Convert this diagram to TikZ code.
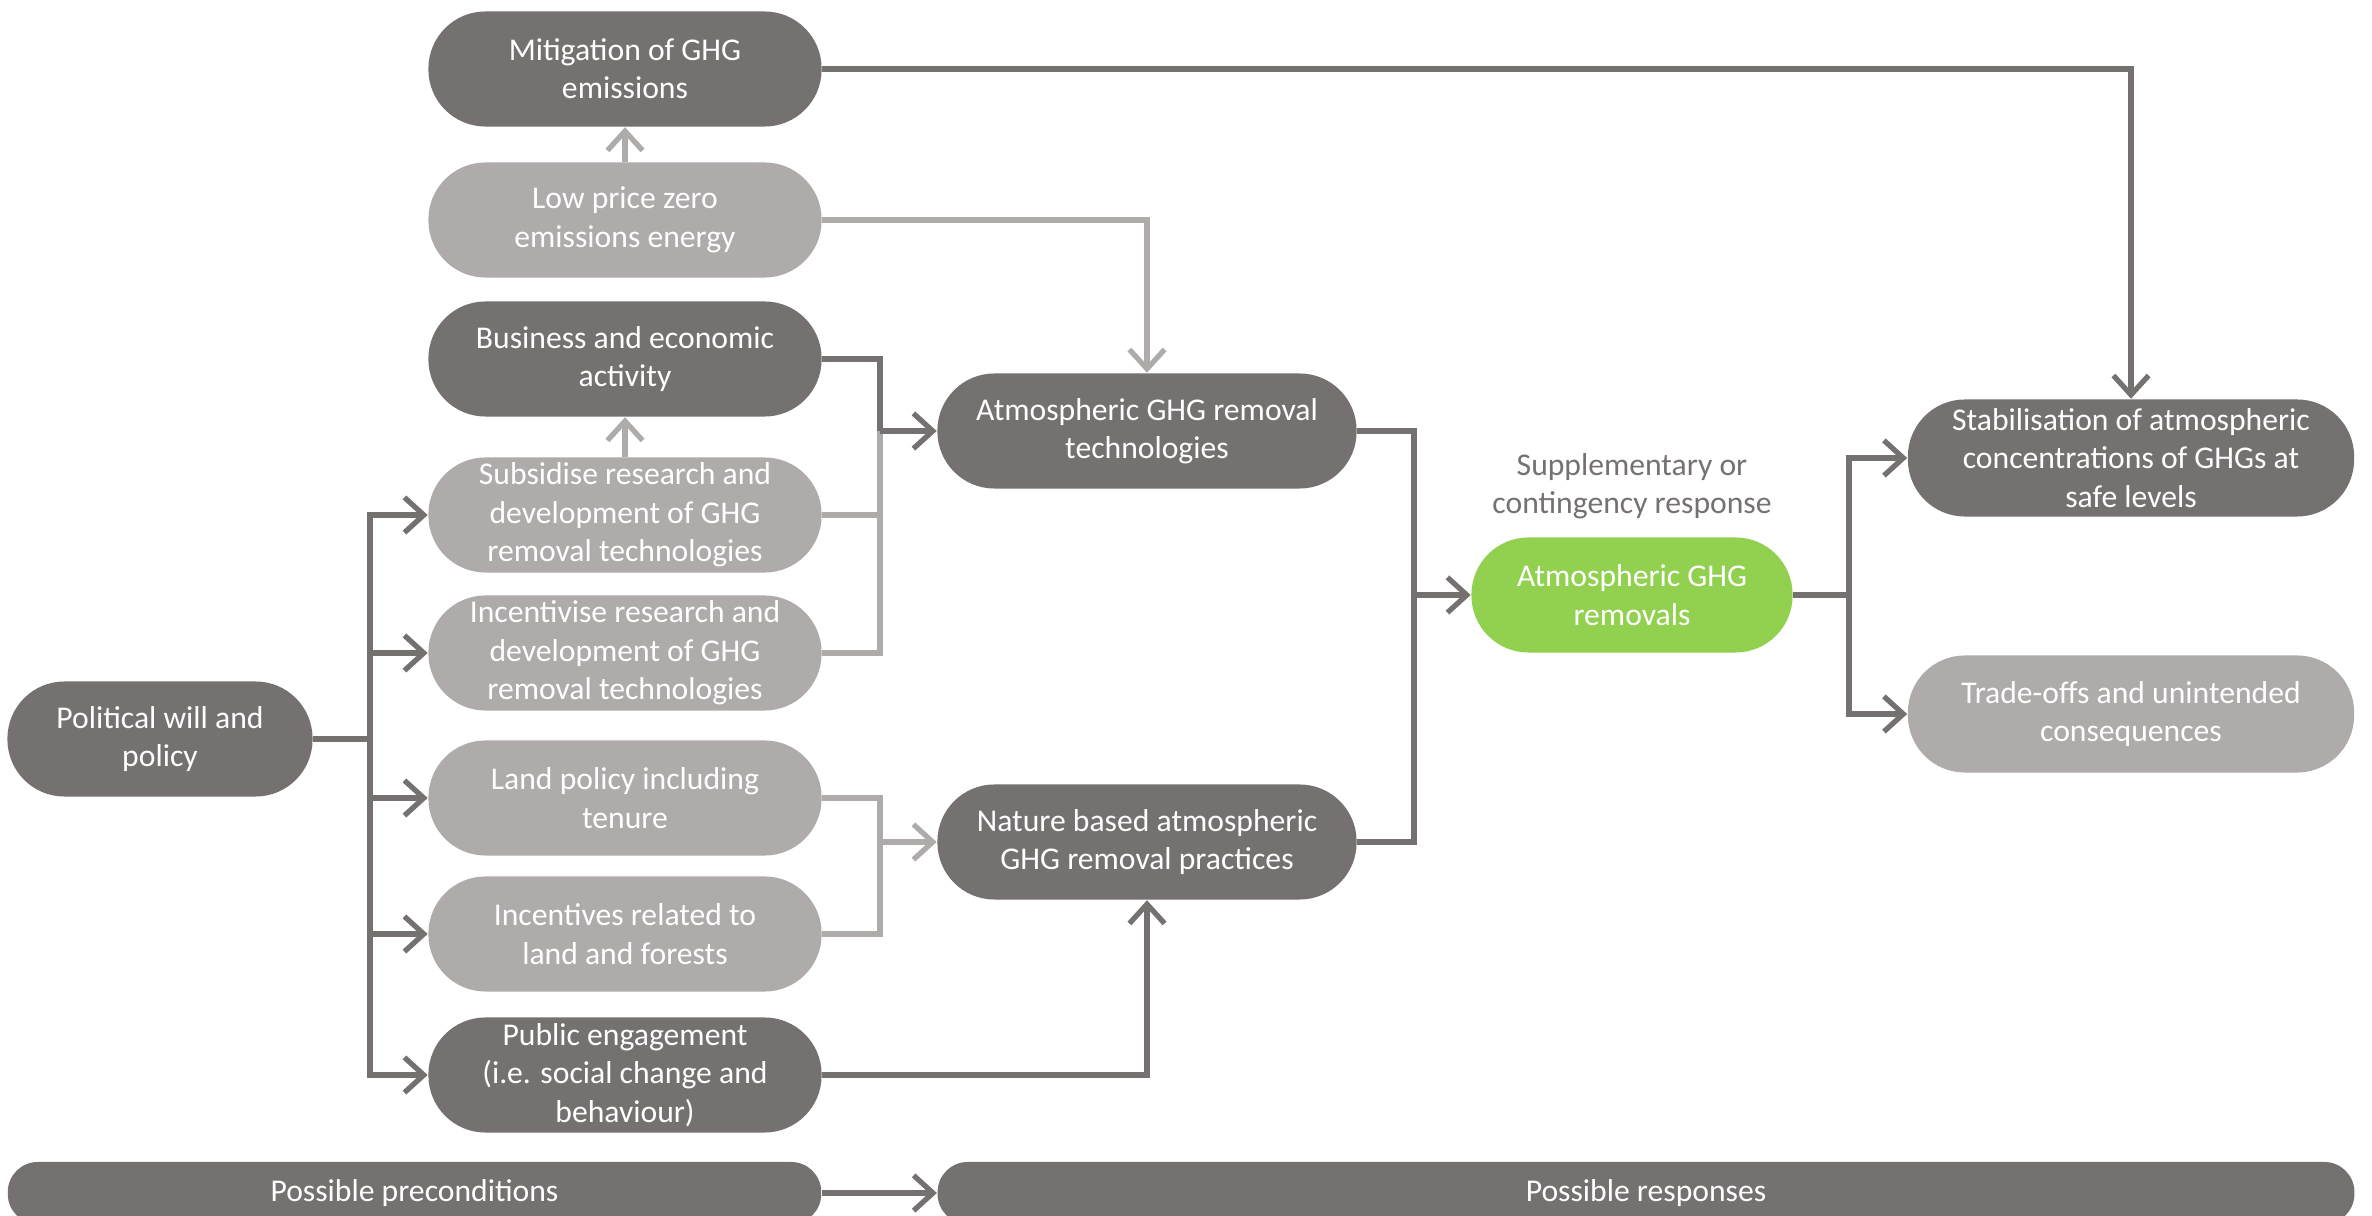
\documentclass[tikz,border=0pt]{standalone}
\usepackage{fontspec}
\setmainfont{Carlito}
\usetikzlibrary{arrows.meta}
\definecolor{boxdark}{RGB}{117,113,112}
\definecolor{boxlight}{RGB}{174,171,170}
\definecolor{boxgreen}{RGB}{146,208,80}

\begin{document}
\begin{tikzpicture}[x=0.01cm, y=-0.01cm,
  every node/.style={font=\fontsize{9}{10.9}\selectfont},
  pill/.style={rounded corners=0.57cm, text=white, align=center, minimum height=1.15cm, inner sep=0pt},
  darkpill/.style={pill, fill=boxdark},
  lightpill/.style={pill, fill=boxlight},
  greenpill/.style={pill, fill=boxgreen},
  flow/.style={draw=boxdark, line width=1.5pt, -{Straight Barb[length=5.5pt,width=10pt]}},
  lightflow/.style={flow, draw=boxlight},
  joint/.style={draw=boxdark, line width=1.5pt},
  lightjoint/.style={joint, draw=boxlight}]
  \useasboundingbox (0,0) rectangle (2372,1216);

  % left column
  \node[darkpill, minimum width=3.93cm] (mitig) at (625,69) {Mitigation of GHG\\emissions};
  \node[lightpill, minimum width=3.93cm] (lowprice) at (625,220) {Low price zero\\emissions energy};
  \node[darkpill, minimum width=3.93cm] (business) at (625,359) {Business and economic\\activity};
  \node[lightpill, minimum width=3.93cm] (subsid) at (625,515) {Subsidise research and\\development of GHG\\removal technologies};
  \node[lightpill, minimum width=3.93cm] (incent) at (625,653) {Incentivise research and\\development of GHG\\removal technologies};
  \node[lightpill, minimum width=3.93cm] (landpol) at (625,798) {Land policy including\\tenure};
  \node[lightpill, minimum width=3.93cm] (landinc) at (625,934) {Incentives related to\\land and forests};
  \node[darkpill, minimum width=3.93cm] (public) at (625,1075) {Public engagement\\(i.e. social change and\\behaviour)};
  \node[darkpill, minimum width=3.05cm] (politic) at (160,739) {Political will and\\policy};

  % middle and right
  \node[darkpill, minimum width=4.19cm] (tech) at (1147,431) {Atmospheric GHG removal\\technologies};
  \node[darkpill, minimum width=4.19cm] (nature) at (1147,842) {Nature based atmospheric\\GHG removal practices};
  \node[greenpill, minimum width=3.21cm] (removals) at (1632,595) {Atmospheric GHG\\removals};
  \node[text=boxdark, align=center] (suppl) at (1632,486) {Supplementary or\\contingency response};
  \node[darkpill, minimum width=4.46cm, minimum height=1.17cm] (stabil) at (2131,458) {Stabilisation of atmospheric\\concentrations of GHGs at\\safe levels};
  \node[lightpill, minimum width=4.46cm, minimum height=1.17cm] (tradeoff) at (2131,714) {Trade-offs and unintended\\consequences};

  % bottom bars, cut by the page edge
  \begin{scope}
    \clip (0,0) rectangle (2372,1216);
    \node[darkpill, minimum width=8.13cm, minimum height=0.62cm, rounded corners=0.3cm] (precond) at (414.5,1193) {Possible preconditions};
    \node[darkpill, minimum width=14.16cm, minimum height=0.62cm, rounded corners=0.3cm] (responses) at (1646,1193) {Possible responses};
  \end{scope}

  \draw[flow] (mitig.east) -| (stabil.north);
  \draw[lightflow] (lowprice.north) -- (mitig.south);
  \draw[lightflow] (lowprice.east) -| (tech.north);
  \draw[lightflow] (subsid.north) -- (business.south);

  \coordinate (techin) at (880,431);
  \draw[lightjoint] (subsid.east) -| (techin);
  \draw[lightjoint] (incent.east) -| (techin);
  \draw[joint] (business.east) -| (techin);
  \draw[flow] (techin) -- (tech.west);

  \coordinate (trunk) at (370,739);
  \draw[joint] (politic.east) -- (trunk);
  \foreach \n in {subsid,incent,landpol,landinc,public}
    \draw[flow] (trunk) |- (\n.west);

  \coordinate (naturein) at (880,842);
  \draw[lightjoint] (landpol.east) -| (naturein);
  \draw[lightjoint] (landinc.east) -| (naturein);
  \draw[lightflow] (naturein) -- (nature.west);
  \draw[flow] (public.east) -| (nature.south);

  \coordinate (removin) at (1414,595);
  \draw[joint] (tech.east) -| (removin);
  \draw[joint] (nature.east) -| (removin);
  \draw[flow] (removin) -- (removals.west);
  \coordinate (removout) at (1849,595);
  \draw[joint] (removals.east) -- (removout);
  \draw[flow] (removout) |- (stabil.west);
  \draw[flow] (removout) |- (tradeoff.west);

  \draw[flow] (precond) -- (responses);
\end{tikzpicture}
\end{document}
